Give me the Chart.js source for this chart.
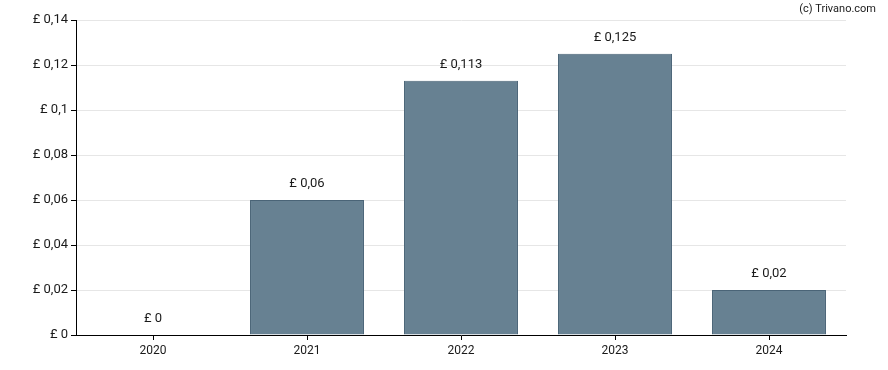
<!DOCTYPE html>
<html>
<head>
<meta charset="utf-8">
<script src="https://cdn.jsdelivr.net/npm/chart.js@4"></script>
<style>
  html, body { margin: 0; padding: 0; background: #fff; }
  #wrap { width: 888px; height: 370px; position: relative; }
</style>
</head>
<body>
<div id="wrap"><canvas id="divChart"></canvas></div>
<script>
// jaren en dividend per aandeel
const years = ['2020', '2021', '2022', '2023', '2024'];
const dividends = [0, 0.06, 0.113, 0.125, 0.02];
const yTicks = [0, 0.02, 0.04, 0.06, 0.08, 0.1, 0.12, 0.14];

function fmtPound(v) {
  return '£ ' + String(parseFloat(v.toFixed(4))).replace('.', ',');
}

// labels boven de staven + watermerk
const labelPlugin = {
  id: 'barLabels',
  afterDatasetsDraw(chart) {
    const ctx = chart.ctx;
    const meta = chart.getDatasetMeta(0);
    ctx.save();
    ctx.font = '13px Roboto';
    ctx.fillStyle = '#1a1a1a';
    ctx.textAlign = 'center';
    ctx.textBaseline = 'middle';
    meta.data.forEach((bar, i) => {
      ctx.fillText(fmtPound(dividends[i]), bar.x, bar.y - 16);
    });
    ctx.font = '11px Roboto';
    ctx.textAlign = 'right';
    ctx.fillText('(c) Trivano.com', 876, 9);
    ctx.restore();
  }
};

new Chart(document.getElementById('divChart'), {
  type: 'bar',
  data: {
    labels: years,
    datasets: [{
      data: dividends,
      backgroundColor: '#678192',
      borderColor: '#4a6477',
      borderWidth: 1,
      categoryPercentage: 1,
      barPercentage: 0.74
    }]
  },
  options: {
    responsive: true,
    maintainAspectRatio: false,
    animation: false,
    layout: { padding: { left: 0, right: 42, top: 20, bottom: 0 } },
    plugins: {
      legend: { display: false },
      tooltip: { enabled: false }
    },
    scales: {
      x: {
        grid: { drawOnChartArea: false, offset: false, tickLength: 5, tickColor: '#000' },
        border: { color: '#000', width: 1 },
        ticks: { color: '#1a1a1a', font: { family: 'Roboto', size: 12 }, padding: 4 },
        afterFit(scale) { scale.height = 35; }
      },
      y: {
        min: 0,
        max: 0.14,
        grid: { color: '#e6e6e6', tickLength: 5, tickColor: '#000' },
        border: { color: '#000', width: 1 },
        afterBuildTicks(scale) { scale.ticks = yTicks.map(v => ({ value: v })); },
        ticks: {
          color: '#1a1a1a',
          font: { family: 'Roboto', size: 13 },
          padding: 3,
          callback: v => fmtPound(v)
        },
        afterFit(scale) { scale.width = 76; }
      }
    }
  },
  plugins: [labelPlugin]
});
</script>
</body>
</html>
